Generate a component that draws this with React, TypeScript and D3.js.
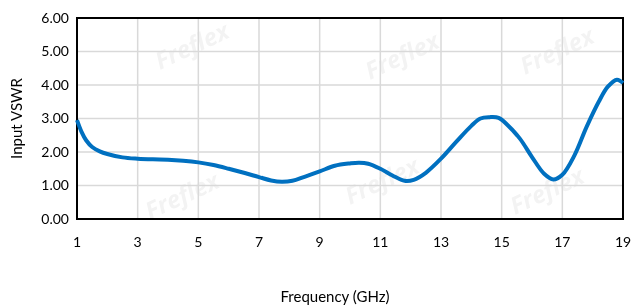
import { useEffect, useRef } from "react";
import * as d3 from "d3";

// frequency (GHz) and VSWR
const freq = [1, 1.15, 1.3, 1.5, 1.75, 2, 2.5, 3, 3.5, 4, 4.5, 5, 5.5, 6, 6.5, 7, 7.4, 7.75, 8.1, 8.5, 9, 9.5, 10, 10.3, 10.6, 11, 11.4, 11.8, 12.1, 12.5, 13, 13.5, 14, 14.3, 14.6, 14.9, 15.2, 15.6, 16, 16.4, 16.7, 17, 17.4, 17.8, 18.2, 18.5, 18.8, 19];
const vswr = [2.95, 2.6, 2.35, 2.15, 2.02, 1.94, 1.84, 1.8, 1.78, 1.77, 1.74, 1.69, 1.61, 1.5, 1.38, 1.25, 1.15, 1.11, 1.14, 1.26, 1.42, 1.59, 1.66, 1.68, 1.65, 1.5, 1.3, 1.14, 1.17, 1.38, 1.8, 2.3, 2.78, 3.0, 3.04, 3.02, 2.8, 2.4, 1.85, 1.35, 1.18, 1.32, 1.9, 2.75, 3.5, 3.95, 4.16, 4.06];
const xTicks = [1, 3, 5, 7, 9, 11, 13, 15, 17, 19];
const yTicks = [0, 1, 2, 3, 4, 5, 6];
const watermarks = [
  [160, 70], [370, 80], [525, 75], [150, 220], [350, 205], [515, 215],
];

const App = () => {
  const svgRef = useRef<SVGSVGElement>(null);

  useEffect(() => {
    const width = 633;
    const height = 307;
    const margin = { top: 18, right: 10, bottom: 88, left: 77 };

    const svg = d3.select(svgRef.current);
    svg.selectAll("*").remove();
    svg.attr("width", width).attr("height", height);

    const x = d3.scaleLinear().domain([1, 19]).range([margin.left, width - margin.right]);
    const y = d3.scaleLinear().domain([0, 6]).range([height - margin.bottom, margin.top]);

    const font = "Lato, 'Open Sans', sans-serif";

    // faint watermark
    const wm = svg.append("g").attr("fill", "#000").attr("opacity", 0.05);
    watermarks.forEach(([wx, wy]) => {
      wm.append("text")
        .attr("transform", `translate(${wx},${wy}) rotate(-25)`)
        .attr("font-family", "'Open Sans', sans-serif")
        .attr("font-weight", "bold")
        .attr("font-style", "italic")
        .attr("font-size", 24)
        .text("Freflex");
    });

    // grid
    svg.append("g")
      .attr("stroke", "#d9d9d9")
      .attr("stroke-width", 1.5)
      .call(g => g.selectAll("line.h").data(yTicks.slice(1)).join("line")
        .attr("x1", x(1)).attr("x2", x(19))
        .attr("y1", d => y(d)).attr("y2", d => y(d)))
      .call(g => g.selectAll("line.v").data(xTicks.slice(1)).join("line")
        .attr("y1", y(0)).attr("y2", y(6))
        .attr("x1", d => x(d)).attr("x2", d => x(d)));

    svg.append("rect")
      .attr("x", x(1)).attr("y", y(6))
      .attr("width", x(19) - x(1)).attr("height", y(0) - y(6))
      .attr("fill", "none").attr("stroke", "#000").attr("stroke-width", 2);

    const line = d3.line<number>()
      .x((_, i) => x(freq[i]))
      .y(d => y(d))
      .curve(d3.curveCatmullRom.alpha(0.5));

    svg.append("path")
      .datum(vswr)
      .attr("d", line)
      .attr("fill", "none")
      .attr("stroke", "#0070c0")
      .attr("stroke-width", 4)
      .attr("stroke-linejoin", "round");

    // tick labels
    svg.append("g")
      .attr("font-family", font).attr("font-size", 14).attr("fill", "#000")
      .selectAll("text").data(yTicks).join("text")
      .attr("x", x(1) - 8).attr("y", d => y(d)).attr("dy", "0.35em")
      .attr("text-anchor", "end")
      .text(d => d.toFixed(2));

    svg.append("g")
      .attr("font-family", font).attr("font-size", 14).attr("fill", "#000")
      .selectAll("text").data(xTicks).join("text")
      .attr("x", d => x(d)).attr("y", 247)
      .attr("text-anchor", "middle")
      .text(d => d);

    svg.append("text")
      .attr("x", 335).attr("y", 302)
      .attr("text-anchor", "middle")
      .attr("font-family", font).attr("font-size", 15)
      .text("Frequency (GHz)");

    svg.append("text")
      .attr("transform", `translate(22,${(y(0) + y(6)) / 2}) rotate(-90)`)
      .attr("text-anchor", "middle")
      .attr("font-family", font).attr("font-size", 15)
      .text("Input VSWR");
  }, []);

  return <svg ref={svgRef} style={{ position: "absolute", left: 0, top: 0 }}></svg>;
};

export default App;
